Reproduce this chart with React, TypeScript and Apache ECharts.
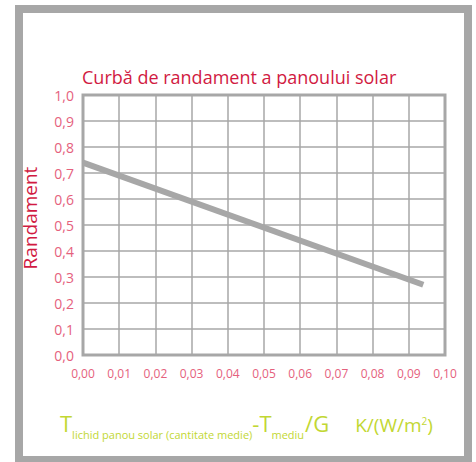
import React, { useEffect, useRef } from "react";
import * as echarts from "echarts";

const titleText = "Curbă de randament a panoului solar";
const yAxisName = "Randament";
const xTicks = [0, 0.01, 0.02, 0.03, 0.04, 0.05, 0.06, 0.07, 0.08, 0.09, 0.1];
const efficiencyX = [0, 0.094];
const efficiencyY = [0.74, 0.27];

const FONT = "'Open Sans', 'Noto Sans', sans-serif";
const PINK = "#e5617d";
const CRIMSON = "#d11a42";
const GREEN = "#c2d733";
const GRAY = "#a7a7a7";

export default function App() {
  const ref = useRef<HTMLDivElement>(null);
  useEffect(() => {
    document.body.style.margin = "0";
    const chart = echarts.init(ref.current!, null, { renderer: "svg" });
    chart.setOption({
      animation: false,
      backgroundColor: "#ffffff",
      title: {
        text: titleText,
        left: 77,
        top: 63,
        textStyle: { fontFamily: FONT, fontSize: 18, fontWeight: "normal", color: CRIMSON },
      },
      grid: {
        left: 83,
        top: 95,
        right: 31,
        bottom: 107,
        show: true,
        borderColor: GRAY,
        borderWidth: 3,
        backgroundColor: "transparent",
      },
      xAxis: {
        type: "value",
        min: xTicks[0],
        max: xTicks[xTicks.length - 1],
        interval: 0.01,
        axisLine: { show: false },
        axisTick: { show: false },
        splitLine: { show: true, lineStyle: { color: GRAY, width: 1.5 } },
        axisLabel: {
          margin: 12,
          fontFamily: FONT,
          fontSize: 12,
          color: PINK,
          formatter: (v: number) => v.toFixed(2).replace(".", ","),
        },
      },
      yAxis: {
        type: "value",
        min: 0,
        max: 1,
        interval: 0.1,
        name: yAxisName,
        nameLocation: "middle",
        nameRotate: 90,
        nameGap: 44,
        nameTextStyle: { fontFamily: FONT, fontSize: 19, color: CRIMSON, padding: [0, 0, 0, 14] },
        axisLine: { show: false },
        axisTick: { show: false },
        splitLine: { show: true, lineStyle: { color: GRAY, width: 1.5 } },
        axisLabel: {
          margin: 9,
          fontFamily: FONT,
          fontSize: 14,
          color: PINK,
          formatter: (v: number) => v.toFixed(1).replace(".", ","),
        },
      },
      series: [
        {
          type: "line",
          data: efficiencyX.map((x, i) => [x, efficiencyY[i]]),
          symbol: "none",
          silent: true,
          lineStyle: { color: GRAY, width: 6, cap: "butt" },
        },
      ],
      graphic: [
        {
          type: "rect",
          shape: { x: 19, y: 9, width: 449, height: 451 },
          style: { fill: "none", stroke: GRAY, lineWidth: 8 },
          silent: true,
        },
        {
          type: "text",
          left: 60,
          top: 412,
          style: {
            text: "{m|T}{s|lichid panou solar (cantitate medie)}{m|-T}{s|mediu}{g|/G}{k|K/(W/m}{p|2}{u|)}",
            fill: GREEN,
            rich: {
              m: { fontFamily: FONT, fontSize: 22, fill: GREEN, verticalAlign: "bottom", lineHeight: 24, padding: [0, 0, 6, 0] },
              g: { fontFamily: FONT, fontSize: 22, fill: GREEN, verticalAlign: "bottom", lineHeight: 24, padding: [0, 0, 6, 1] },
              s: { fontFamily: FONT, fontSize: 11, fill: GREEN, verticalAlign: "bottom", lineHeight: 14 },
              k: { fontFamily: FONT, fontSize: 19, fill: GREEN, verticalAlign: "bottom", lineHeight: 24, padding: [0, 0, 6, 26] },
              u: { fontFamily: FONT, fontSize: 19, fill: GREEN, verticalAlign: "bottom", lineHeight: 24, padding: [0, 0, 6, 0] },
              p: { fontFamily: FONT, fontSize: 10, fill: GREEN, verticalAlign: "bottom", lineHeight: 12, padding: [0, 0, 14, 0] },
            },
          },
          silent: true,
        },
      ],
    });
    return () => chart.dispose();
  }, []);
  return <div ref={ref} style={{ width: 476, height: 462 }} />;
}
